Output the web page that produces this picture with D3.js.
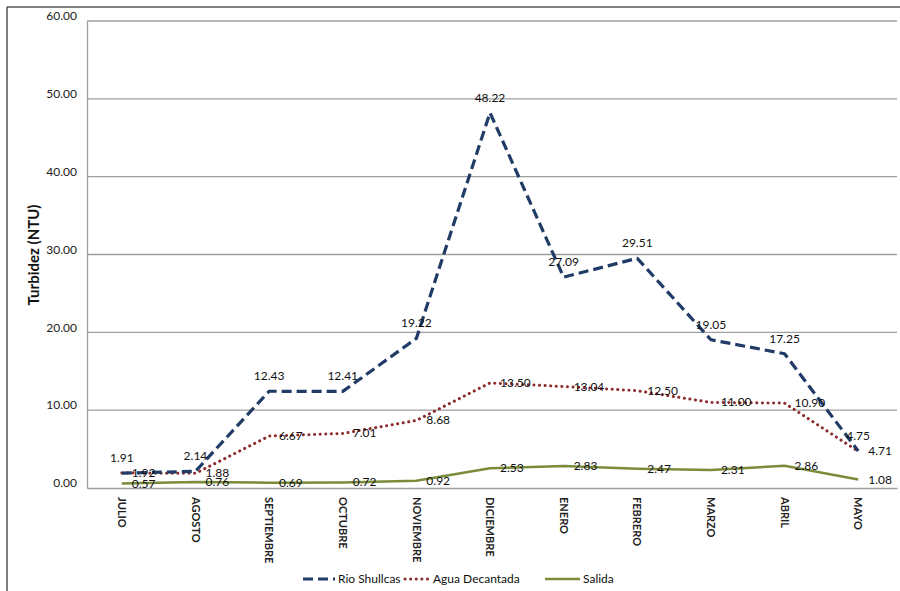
<!DOCTYPE html>
<html><head><meta charset="utf-8">
<script src="https://cdn.jsdelivr.net/npm/d3@7"></script>
<style>body{margin:0;background:#fff;} svg{display:block;font-family:Lato,"Liberation Sans",sans-serif;}</style>
</head><body>
<svg id="c" width="900" height="591"></svg>
<script>
const months = ["JULIO","AGOSTO","SEPTIEMBRE","OCTUBRE","NOVIEMBRE","DICIEMBRE","ENERO","FEBRERO","MARZO","ABRIL","MAYO"];
const rioShullcas = [1.91,2.14,12.43,12.41,19.22,48.22,27.09,29.51,19.05,17.25,4.75];
const aguaDecantada = [1.92,1.88,6.67,7.01,8.68,13.50,13.04,12.50,11.00,10.90,4.71];
const salida = [0.57,0.76,0.69,0.72,0.92,2.53,2.83,2.47,2.31,2.86,1.08];
const yTicks = [0,10,20,30,40,50,60];
const seriesNames = ["Rio Shullcas","Agua Decantada","Salida"];

const svg = d3.select("#c");
const L = 87, R = 897, T = 21, B = 488;
const x = d3.scaleBand().domain(months).range([L, R]);
const y = d3.scaleLinear().domain([0,60]).range([B, T]);
const cx = m => x(m) + x.bandwidth()/2 - 2;

// outer frame
svg.append("line").attr("x1",7).attr("x2",900).attr("y1",7).attr("y2",7).attr("stroke","#555").attr("stroke-width",1.5);
svg.append("line").attr("x1",7).attr("x2",7).attr("y1",7).attr("y2",591).attr("stroke","#555").attr("stroke-width",1.5);

// gridlines
svg.append("g").selectAll("line").data(yTicks.filter(d=>d>0)).join("line")
  .attr("x1",L).attr("x2",R).attr("y1",d=>y(d)).attr("y2",d=>y(d))
  .attr("stroke","#9e9e9e").attr("stroke-width",1.3);

// y axis
const ya = svg.append("g").attr("transform",`translate(${L},0)`)
  .call(d3.axisLeft(y).tickValues(yTicks).tickFormat(d3.format(".2f")).tickSize(0).tickPadding(10));
ya.select(".domain").attr("stroke","#9e9e9e").attr("stroke-width",1.3);
ya.selectAll("text").attr("font-size",12).attr("fill","#222").attr("font-family","Lato,sans-serif").attr("dy","-0.1em");

// x axis
const xa = svg.append("g").attr("transform",`translate(0,${B})`)
  .call(d3.axisBottom(x).tickSize(0).tickFormat(d=>d));
xa.select(".domain").attr("stroke","#9e9e9e").attr("stroke-width",1.3);
xa.selectAll(".tick").attr("transform", d=>`translate(${cx(d)},0)`);
xa.selectAll("text").attr("font-size",11).attr("font-weight","bold").attr("fill","#222")
  .attr("font-family","Lato,sans-serif")
  .attr("text-anchor","start").attr("transform","rotate(90)")
  .attr("x",9).attr("y",0).attr("dy","0.35em").attr("dx","0");

// y title
svg.append("text").attr("transform","translate(39,255) rotate(-90)").attr("text-anchor","middle")
  .attr("font-size",15).attr("font-weight","bold").attr("fill","#111").text("Turbidez (NTU)");

const line = d3.line().x((d,i)=>cx(months[i])).y(d=>y(d));
const styles = [
  {data: rioShullcas, color:"#1f3b66", width:3.2, dash:"10,5", cap:"butt"},
  {data: aguaDecantada, color:"#8b2b2b", width:3, dash:"0.1,5.5", cap:"round"},
  {data: salida, color:"#7a8c3a", width:2.5, dash:null, cap:"butt"}
];
[2,1,0].forEach(k=>{
  const s = styles[k];
  svg.append("path").datum(s.data).attr("d",line).attr("fill","none")
    .attr("stroke",s.color).attr("stroke-width",s.width)
    .attr("stroke-dasharray",s.dash).attr("stroke-linecap",s.cap).attr("stroke-linejoin","round");
});

// labels
const lab = svg.append("g").attr("font-size",12).attr("fill","#111").attr("font-family","Lato,sans-serif");
rioShullcas.forEach((v,i)=>{
  lab.append("text").attr("x",cx(months[i])).attr("y",y(v)-11).attr("text-anchor","middle").text(v.toFixed(2));
});
aguaDecantada.forEach((v,i)=>{
  lab.append("text").attr("x",cx(months[i])+10).attr("y",y(v)+4).attr("text-anchor","start").text(v.toFixed(2));
});
salida.forEach((v,i)=>{
  lab.append("text").attr("x",cx(months[i])+10).attr("y",y(v)+4).attr("text-anchor","start").text(v.toFixed(2));
});

// legend
const lg = svg.append("g").attr("font-size",12).attr("fill","#111").attr("font-family","Lato,sans-serif");
const legX = [303, 405, 545];
const legW = [32, 25, 35];
styles.forEach((s,k)=>{
  lg.append("line").attr("x1",legX[k]).attr("x2",legX[k]+legW[k]).attr("y1",579).attr("y2",579)
    .attr("stroke",s.color).attr("stroke-width",s.width).attr("stroke-dasharray",s.dash).attr("stroke-linecap",s.cap);
  lg.append("text").attr("x",legX[k]+legW[k]+3).attr("y",583).text(seriesNames[k]);
});
</script>
</body></html>
